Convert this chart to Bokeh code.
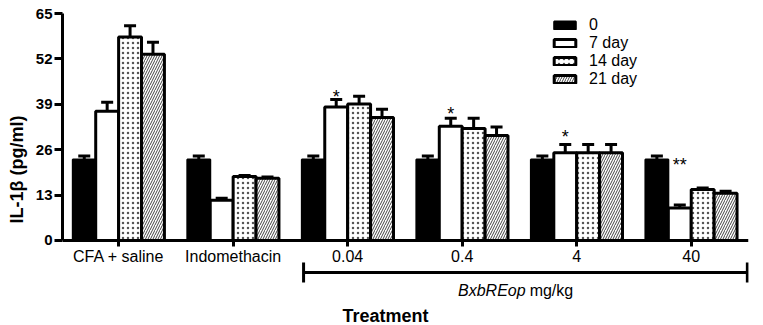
import numpy as np
from bokeh.plotting import figure
from bokeh.models import (ColumnDataSource, FixedTicker, Whisker, TeeHead, Label,
                          Legend, LegendItem, Range1d)
from bokeh.embed import file_html
from bokeh.resources import INLINE
from bokeh.core.properties import value

# ---- data ----
groups = ["CFA + saline", "Indomethacin", "0.04", "0.4", "4", "40"]
series = ["0", "7 day", "14 day", "21 day"]
mean_0 = [23.2, 23.2, 23.2, 23.2, 23.2, 23.2]
err_0 = [1.0, 1.0, 1.0, 1.0, 1.0, 1.0]
mean_7 = [37.0, 11.5, 38.2, 32.7, 25.1, 9.3]
err_7 = [2.6, 0.6, 2.2, 2.3, 2.4, 0.9]
mean_14 = [58.3, 18.3, 39.1, 32.1, 25.1, 14.6]
err_14 = [3.2, 0.3, 2.2, 2.9, 2.4, 0.4]
mean_21 = [53.3, 17.8, 35.2, 30.1, 25.1, 13.5]
err_21 = [3.5, 0.4, 2.4, 2.4, 2.4, 0.6]
sig_7 = ["", "", "*", "*", "*", "**"]
sig_y = [0, 0, 41.2, 36.2, 29.5, 21.5]
y_ticks = [0, 13, 26, 39, 52, 65]

FONT = "Liberation Sans"

p = figure(width=763, height=325, output_backend="svg", toolbar_location=None,
           x_range=Range1d(-0.49, 5.5), y_range=Range1d(-24.34, 65),
           min_border_left=62, min_border_right=15, min_border_top=13,
           min_border_bottom=0)
p.xgrid.visible = False
p.ygrid.visible = False
p.outline_line_color = None

idx = np.arange(len(groups))
means = [mean_0, mean_7, mean_14, mean_21]
errs = [err_0, err_7, err_14, err_21]
offsets = [-0.3, -0.1, 0.1, 0.3]
styles = [
    dict(fill_color="black", line_color="black", line_width=2),
    dict(fill_color="white", line_color="black", line_width=3),
    dict(fill_color="white", line_color="black", line_width=3,
         hatch_pattern="dot", hatch_color="#555555", hatch_scale=5, hatch_weight=0.7),
    dict(fill_color="white", line_color="black", line_width=3,
         hatch_pattern="right_diagonal_line", hatch_color="#444444", hatch_scale=5, hatch_weight=1),
]

legend_items = []
for k in range(4):
    m = np.array(means[k])
    e = np.array(errs[k])
    src = ColumnDataSource(dict(x=idx + offsets[k], top=m, upper=m + e))
    r = p.vbar(x="x", top="top", width=0.2, source=src, **styles[k])
    w = Whisker(source=src, base="x", lower="top", upper="upper", dimension="height",
                line_width=3, line_color="black", lower_head=None,
                upper_head=TeeHead(size=12, line_width=3, line_color="black"))
    p.add_layout(w)
    legend_items.append(LegendItem(label=series[k], renderers=[r]))

# significance
sx = [i + offsets[1] for i, s in enumerate(sig_7) if s]
sy = [sig_y[i] for i, s in enumerate(sig_7) if s]
st = [s for s in sig_7 if s]
p.text(x=sx, y=sy, text=st, text_align="center", text_baseline="middle",
       text_font=value(FONT), text_font_size="18px", text_color="black")

legend = Legend(items=legend_items, location=(489, 237), orientation="vertical",
                glyph_width=27, glyph_height=10, label_height=10, spacing=0,
                padding=0, margin=0, border_line_color=None, background_fill_alpha=0,
                label_text_font=FONT, label_text_font_size="16px", label_standoff=11,
                label_text_color="black")
p.add_layout(legend)

# axes
p.yaxis.ticker = FixedTicker(ticks=y_ticks)
p.yaxis.bounds = (0, 65)
p.yaxis.minor_tick_line_color = None
p.yaxis.axis_line_width = 3
p.yaxis.axis_line_color = "black"
p.yaxis.major_tick_line_color = "black"
p.yaxis.major_tick_line_width = 3
p.yaxis.major_tick_out = 8
p.yaxis.major_tick_in = 0
p.yaxis.major_label_text_font = FONT
p.yaxis.major_label_text_font_style = "bold"
p.yaxis.major_label_text_font_size = "15px"
p.yaxis.major_label_text_color = "black"
p.yaxis.major_label_standoff = 2
p.yaxis.axis_label = "IL-1β (pg/ml)"
p.yaxis.axis_label_text_font = FONT
p.yaxis.axis_label_text_font_style = "bold"
p.yaxis.axis_label_text_font_size = "18px"
p.yaxis.axis_label_text_color = "black"
p.yaxis.axis_label_standoff = 6

p.xaxis.fixed_location = 0
p.xaxis.ticker = FixedTicker(ticks=list(idx))
p.xaxis.major_label_overrides = {int(i): g for i, g in zip(idx, groups)}
p.xaxis.minor_tick_line_color = None
p.xaxis.axis_line_width = 3
p.xaxis.axis_line_color = "black"
p.xaxis.major_tick_line_color = "black"
p.xaxis.major_tick_line_width = 3
p.xaxis.major_tick_out = 6
p.xaxis.major_tick_in = 0
p.xaxis.major_label_text_font = FONT
p.xaxis.major_label_text_font_size = "16px"
p.xaxis.major_label_text_color = "black"
p.xaxis.major_label_standoff = 2

# bracket for BxbREop doses
br = ColumnDataSource(dict(base=[-9.16], lower=[1.615], upper=[5.49]))
p.add_layout(Whisker(source=br, base="base", lower="lower", upper="upper", dimension="width",
                     line_width=3, line_color="black",
                     lower_head=TeeHead(size=20, line_width=3, line_color="black"),
                     upper_head=TeeHead(size=20, line_width=3, line_color="black")))

p.add_layout(Label(x=3.554, y=-14.3, text="BxbREop", text_align="right", text_baseline="middle",
                   text_font=FONT, text_font_style="italic", text_font_size="16px",
                   text_color="black"))
p.add_layout(Label(x=3.589, y=-14.3, text="mg/kg", text_align="left", text_baseline="middle",
                   text_font=FONT, text_font_size="16px", text_color="black"))
p.add_layout(Label(x=2.33, y=-21.5, text="Treatment", text_align="center", text_baseline="middle",
                   text_font=FONT, text_font_style="bold", text_font_size="18px",
                   text_color="black"))

open("out.html", "w").write(file_html(p, INLINE))
